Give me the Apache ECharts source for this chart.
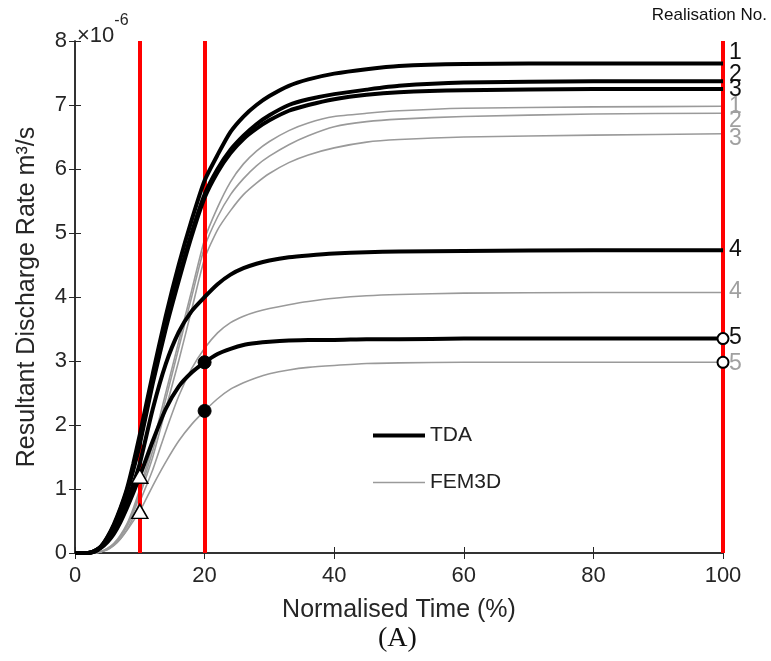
<!DOCTYPE html>
<html><head><meta charset="utf-8">
<script src="https://cdn.jsdelivr.net/npm/echarts@6/dist/echarts.min.js"></script>
<style>html,body{margin:0;padding:0;background:#fff}#c{width:771px;height:661px}</style>
</head><body><div id="c"></div>
<script>
var time = [0,2,3,4,5,6,7,8,9,10,12,14,16,18,20,22,24,26,28,30,33,36,40,45,50,60,80,100];
var tda1 = [0,0,0.03,0.1,0.25,0.45,0.7,1.0,1.4,1.85,2.8,3.7,4.5,5.2,5.82,6.22,6.58,6.82,7.0,7.14,7.3,7.4,7.49,7.56,7.61,7.64,7.65,7.65];
var tda2 = [0,0,0.03,0.1,0.24,0.43,0.68,0.97,1.33,1.75,2.7,3.55,4.3,5.0,5.6,6.0,6.3,6.52,6.7,6.84,7.0,7.09,7.17,7.24,7.3,7.35,7.37,7.37];
var tda3 = [0,0,0.03,0.1,0.23,0.42,0.66,0.95,1.3,1.7,2.65,3.5,4.25,4.95,5.55,5.95,6.25,6.47,6.63,6.76,6.91,7.0,7.09,7.16,7.2,7.23,7.25,7.25];
var tda4 = [0,0,0.02,0.09,0.2,0.35,0.55,0.8,1.08,1.4,2.25,2.95,3.45,3.78,4.0,4.2,4.35,4.45,4.52,4.57,4.62,4.65,4.68,4.7,4.71,4.72,4.73,4.73];
var tda5 = [0,0,0.02,0.08,0.17,0.3,0.48,0.7,0.94,1.2,1.75,2.25,2.6,2.82,2.98,3.11,3.19,3.25,3.28,3.3,3.32,3.33,3.33,3.34,3.34,3.35,3.35,3.35];
var fem1 = [0,0,0,0.02,0.07,0.15,0.28,0.45,0.7,1.0,1.7,2.5,3.3,4.1,4.9,5.4,5.8,6.08,6.28,6.43,6.6,6.72,6.82,6.87,6.91,6.95,6.97,6.98];
var fem2 = [0,0,0,0.02,0.07,0.14,0.26,0.43,0.66,0.95,1.6,2.4,3.2,4.0,4.78,5.25,5.6,5.85,6.05,6.2,6.38,6.52,6.66,6.74,6.78,6.82,6.86,6.87];
var fem3 = [0,0,0,0.02,0.06,0.13,0.25,0.41,0.63,0.9,1.5,2.25,3.0,3.8,4.6,5.05,5.35,5.6,5.78,5.93,6.1,6.22,6.33,6.42,6.46,6.5,6.53,6.55];
var fem4 = [0,0,0,0.02,0.06,0.12,0.22,0.36,0.56,0.8,1.3,1.9,2.45,2.88,3.2,3.44,3.6,3.7,3.77,3.82,3.88,3.93,3.98,4.02,4.04,4.06,4.07,4.07];
var fem5 = [0,0,0,0.02,0.05,0.12,0.22,0.35,0.5,0.65,1.05,1.42,1.75,2.01,2.22,2.41,2.56,2.66,2.74,2.8,2.86,2.9,2.93,2.96,2.97,2.98,2.98,2.98];
var realisationNo = ['1','2','3','4','5'];
var redLineTimes = [10, 20, 100];
var xTicks = [0,20,40,60,80,100];
var yTicks = [0,1,2,3,4,5,6,7,8];

var FONT = 'Liberation Sans';
var AX = '#262626';
function pairs(arr){ return time.map(function(t,i){ return [t, arr[i]]; }); }
var tdaSets = [tda1,tda2,tda3,tda4,tda5];
var femSets = [fem1,fem2,fem3,fem4,fem5];
var tdaOff = [[5,-11],[5,-7],[5,1],[5,-1],[5,-1]];
var femOff = [[5,0],[5,7],[5,5],[5,-1],[5,1]];

var series = [];
series.push({
  type:'line', name:'red', data:[], silent:true, z:3,
  markLine:{silent:true, symbol:['none','none'], label:{show:false},
    lineStyle:{color:'#ff0000', width:4, type:'solid'},
    data: redLineTimes.map(function(t){ return {xAxis:t}; })}
});
femSets.forEach(function(arr,k){
  series.push({type:'line', name:'FEM3D', data:pairs(arr), showSymbol:false, symbol:'none',
    smooth:0.2, z:4,
    lineStyle:{color:'#9a9a9a', width:1.6}, itemStyle:{color:'#9a9a9a'},
    endLabel:{show:true, formatter:realisationNo[k], color:'#a0a0a0', fontSize:23, fontFamily:FONT, offset:femOff[k], distance:1}
  });
});
tdaSets.forEach(function(arr,k){
  series.push({type:'line', name:'TDA', data:pairs(arr), showSymbol:false, symbol:'none',
    smooth:0.2, z:5,
    lineStyle:{color:'#000', width:4}, itemStyle:{color:'#000'},
    endLabel:{show:true, formatter:realisationNo[k], color:'#111', fontSize:23, fontFamily:FONT, offset:tdaOff[k], distance:1}
  });
});
var i10 = time.indexOf(10), i20 = time.indexOf(20), i100 = time.indexOf(100);
series.push({type:'scatter', name:'tri', symbol:'triangle', symbolSize:[16,14], clip:false, z:8,
  itemStyle:{color:'#fff', borderColor:'#000', borderWidth:1.5, opacity:1},
  data:[[10,tda5[i10]],[10,fem5[i10]]]});
series.push({type:'scatter', name:'dot', symbol:'circle', symbolSize:13, clip:false, z:8,
  itemStyle:{color:'#000', borderColor:'#000', borderWidth:1, opacity:1},
  data:[[20,tda5[i20]],[20,fem5[i20]]]});
series.push({type:'scatter', name:'open', symbol:'circle', symbolSize:11, clip:false, z:8,
  itemStyle:{color:'#fff', borderColor:'#000', borderWidth:2, opacity:1},
  data:[[100,tda5[i100]],[100,fem5[i100]]]});

var chart = echarts.init(document.getElementById('c'), null, {renderer:'canvas'});
chart.setOption({
  animation:false,
  backgroundColor:'#fff',
  grid:{left:75, right:48, top:41, bottom:108},
  legend:{data:[{name:'TDA', icon:'path://M0,0H52V4H0Z'},{name:'FEM3D', icon:'path://M0,0H52V1.6H0Z'}],
    orient:'vertical', left:368, top:420, itemWidth:52, itemHeight:14, itemGap:26,
    textStyle:{fontFamily:FONT, fontSize:21, color:'#222'}},
  xAxis:[
    {type:'value', min:0, max:100, interval:20, name:'Normalised Time (%)', nameLocation:'middle', nameGap:45,
     nameTextStyle:{fontFamily:FONT, fontSize:25, color:AX},
     axisLine:{show:true, lineStyle:{color:AX, width:1.5}}, axisTick:{inside:true, length:6, lineStyle:{color:AX}},
     axisLabel:{fontFamily:FONT, fontSize:22, color:AX, margin:12}, splitLine:{show:false}},
    {type:'value', position:'top', min:0, max:100, interval:20,
     axisLine:{show:true, lineStyle:{color:AX, width:1.5}}, axisTick:{inside:true, length:6, lineStyle:{color:AX}},
     axisLabel:{show:false}, splitLine:{show:false}}
  ],
  yAxis:[
    {type:'value', min:0, max:8, interval:1, name:'Resultant Discharge Rate m\u00b3/s', nameLocation:'middle', nameGap:35,
     nameTextStyle:{fontFamily:FONT, fontSize:25, color:AX},
     axisLine:{show:true, lineStyle:{color:AX, width:1.5}}, axisTick:{inside:true, length:6, lineStyle:{color:AX}},
     axisLabel:{fontFamily:FONT, fontSize:22, color:AX, margin:8}, splitLine:{show:false}},
    {type:'value', position:'right', min:0, max:8, interval:1,
     axisLine:{show:true, lineStyle:{color:AX, width:1.5}}, axisTick:{inside:true, length:6, lineStyle:{color:AX}},
     axisLabel:{show:false}, splitLine:{show:false}}
  ],
  graphic:[
    {type:'text', left:77, top:13, style:{text:'{a|\u00d710}{b|-6}', rich:{
      a:{fontFamily:FONT, fontSize:22, fill:AX, padding:[12,0,0,0]},
      b:{fontFamily:FONT, fontSize:16, fill:AX, verticalAlign:'top', padding:[0,0,12,0]}}}},
    {type:'text', right:4, top:7, style:{text:'Realisation No.', fontFamily:FONT, fontSize:17, fill:'#111'}},
    {type:'text', left:378, top:625, style:{text:'(A)', fontFamily:'Liberation Serif', fontSize:28, fill:'#111'}}
  ],
  series:series
});
</script></body></html>
